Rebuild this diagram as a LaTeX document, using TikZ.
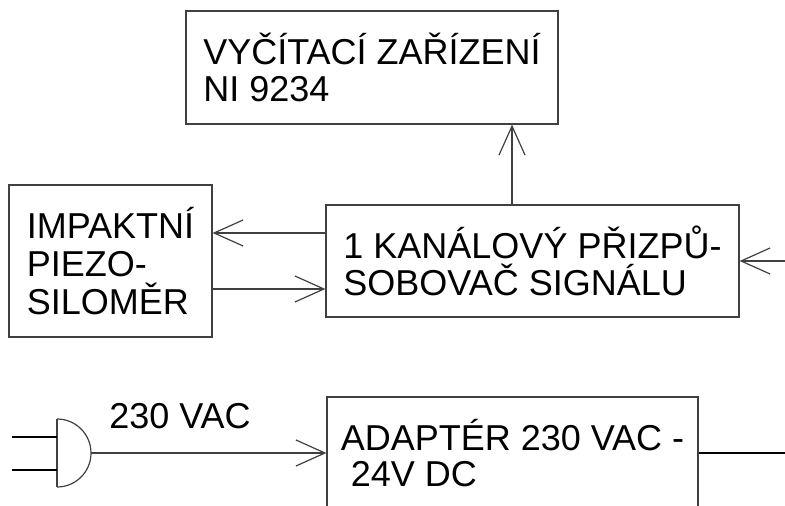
\documentclass[tikz,border=0pt]{standalone}
\usepackage{fontspec}
\setmainfont{Liberation Sans}
\usetikzlibrary{arrows.meta}

\begin{document}
\begin{tikzpicture}[x=0.5pt, y=-0.5pt,
	every node/.style={font=\fontsize{18}{18.3}\selectfont},
	blok/.style={draw=black!75, line width=0.6pt, align=left, inner sep=0pt},
	sig/.style={draw=black!75, line width=0.6pt, -{Straight Barb[length=14.5pt, width=13pt]}}]
	\useasboundingbox (0,0) rectangle (785,506);
	\begin{scope}
		\clip (0,0) rectangle (785,506);
		\node[blok, minimum width=186pt, minimum height=56.5pt] (vyc) at (372,67.5) {VYČÍTACÍ ZAŘÍZENÍ\\NI 9234};
		\node[blok, minimum width=101.5pt, minimum height=76pt, font=\fontsize{18}{19.2}\selectfont] (piezo) at (110.5,261) {IMPAKTNÍ\\PIEZO-\\SILOMĚR};
		\node[blok, minimum width=206.5pt, minimum height=56pt] (prizp) at (532.5,261) {1 KANÁLOVÝ PŘIZPŮ-\\SOBOVAČ SIGNÁLU};
		\node[blok, minimum width=185.5pt, minimum height=56pt] (adapter) at (512.5,453) {ADAPTÉR 230 VAC -\\\ 24V DC};
	\end{scope}
	\coordinate (tap) at (512,0);
	\coordinate (vstup) at (785,261);
	\coordinate (vystup) at (785,453);
	% zastrcka
	\draw[black!75, line width=0.6pt] (57,419) -- (57,487);
	\draw[black!75, line width=0.6pt] (57,419) arc[start angle=90, end angle=-90, radius=17pt];
	\draw[black, line width=0.6pt] (12,437) -- (57,437);
	\draw[black, line width=0.6pt] (12,470) -- (57,470);
	\coordinate (plug) at (91,453);
	\node (vac) at (180,416) {230 VAC};
	\draw[sig] (prizp.north -| tap) -- (vyc.south -| tap);
	\draw[sig] ([yshift=14pt]prizp.west) -- ([yshift=14pt]piezo.east);
	\draw[sig] ([yshift=-14pt]piezo.east) -- ([yshift=-14pt]prizp.west);
	\draw[sig] (vstup) -- (prizp.east);
	\draw[sig] (plug) -- (adapter.west);
	\draw[black, line width=0.6pt] (adapter.east) -- (vystup);
\end{tikzpicture}
\end{document}
